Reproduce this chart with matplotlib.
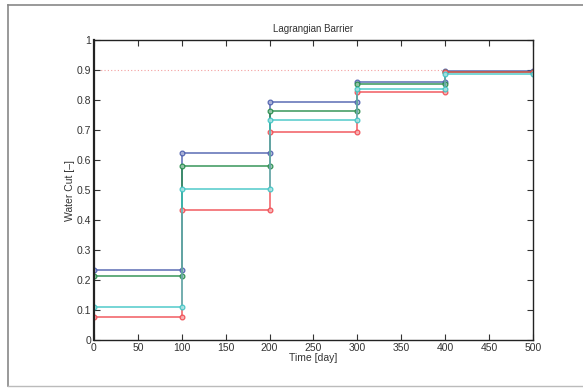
import matplotlib
matplotlib.use("Agg")
import matplotlib.pyplot as plt
from matplotlib.lines import Line2D
from matplotlib.colors import to_rgb

plt.rcParams['font.family'] = ['Liberation Sans', 'DejaVu Sans']

# Report times [day] and water cut per interval for each realisation
times = [0, 100, 200, 300, 400, 500]
wc_blue = [0.235, 0.622, 0.793, 0.860, 0.898]
wc_green = [0.212, 0.580, 0.762, 0.853, 0.894]
wc_cyan = [0.110, 0.502, 0.733, 0.836, 0.888]
wc_red = [0.077, 0.435, 0.693, 0.826, 0.894]
barrier_level = 0.9
barrier_end = 400

xticks = [0, 50, 100, 150, 200, 250, 300, 350, 400, 450, 500]
yticks = [0, 0.1, 0.2, 0.3, 0.4, 0.5, 0.6, 0.7, 0.8, 0.9, 1]
ytick_labels = ['0', '0.1', '0.2', '0.3', '0.4', '0.5', '0.6', '0.7', '0.8', '0.9', '1']

# drawing order: later entries sit on top
series = [
    (wc_blue, '#4a5cac'),
    (wc_green, '#238a48'),
    (wc_red, '#f04a50'),
    (wc_cyan, '#3ec4c4'),
]


def step_points(t, v):
    xs, ys = [], []
    for i, val in enumerate(v):
        xs += [t[i], t[i + 1]]
        ys += [val, val]
    return xs, ys


def lighten(c, f=0.55):
    r, g, b = to_rgb(c)
    return (r + (1 - r) * f, g + (1 - g) * f, b + (1 - b) * f)


fig = plt.figure(figsize=(5.83, 3.88), dpi=100)
ax = fig.add_axes([0.1612, 0.1237, 0.753, 0.7732])

ax.plot([0, barrier_end], [barrier_level, barrier_level], linestyle=(0, (1, 2)),
        color='#f4a0a0', linewidth=0.8, zorder=1)

for vals, col in series:
    xs, ys = step_points(times, vals)
    ax.plot(xs, ys, color=col, linewidth=1.1, marker='o', markersize=3.4,
            markerfacecolor=lighten(col), markeredgecolor=col, markeredgewidth=0.9,
            alpha=0.9, zorder=2)

ax.set_xlim(0, 500)
ax.set_ylim(0, 1)
ax.set_xticks(xticks)
ax.set_yticks(yticks)
ax.set_yticklabels(ytick_labels)
ax.tick_params(direction='in', top=True, right=True, labelsize=7.5,
               length=4, width=0.8, pad=2, colors='#333333', labelcolor='#333333')
for s in ax.spines.values():
    s.set_color('#222222')
    s.set_linewidth(1.0)
ax.spines['left'].set_linewidth(1.6)

ax.set_title('Lagrangian Barrier', fontsize=7, color='#333333', pad=6)
ax.set_xlabel('Time [day]', fontsize=7.5, color='#333333', labelpad=0)
ax.set_ylabel('Water Cut [\u2013]', fontsize=7.5, color='#333333', labelpad=1)

# outer window frame
x0, y0, y1 = 8 / 583, 2 / 388, 383 / 388
fig.add_artist(Line2D([x0, 1], [y1, y1], color='#888888', linewidth=1.2, transform=fig.transFigure))
fig.add_artist(Line2D([x0, x0], [y0, y1], color='#888888', linewidth=1.2, transform=fig.transFigure))
fig.add_artist(Line2D([x0, 1], [y0, y0], color='#bbbbbb', linewidth=1.0, transform=fig.transFigure))

fig.savefig('out.png', dpi=100)
